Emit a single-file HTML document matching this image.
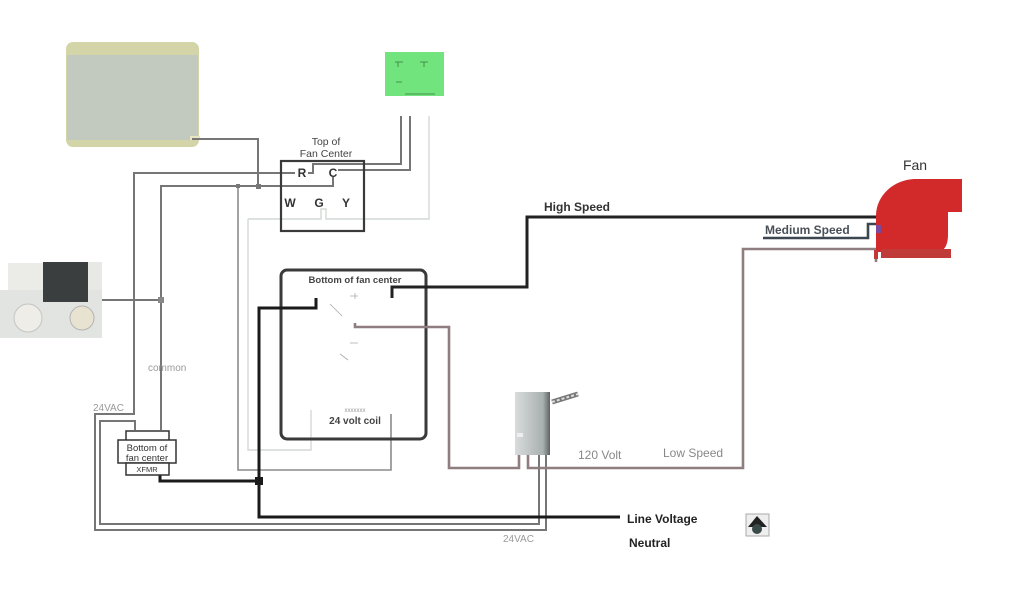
<!DOCTYPE html>
<html><head><meta charset="utf-8"><style>
html,body{margin:0;padding:0;background:#fff;width:1024px;height:600px;overflow:hidden}
svg{display:block}
text{font-family:"Liberation Sans",sans-serif}
</style></head><body>
<svg width="1024" height="600" viewBox="0 0 1024 600" xmlns="http://www.w3.org/2000/svg">
<defs>
<linearGradient id="rg" x1="0" x2="1"><stop offset="0" stop-color="#d8dcdc"/><stop offset="0.8" stop-color="#a9b0b0"/><stop offset="1" stop-color="#5e6262"/></linearGradient>
</defs>
<!-- monitor box -->
<rect x="66" y="42" width="133" height="105" rx="7" fill="#d3d5a8"/>
<rect x="67" y="55" width="131" height="85" fill="#c2c9be"/>
<rect x="190" y="136" width="10" height="4" fill="#e8e6c0"/>
<!-- thermostat -->
<rect x="385" y="52" width="59" height="44" fill="#72e47e"/>
<g stroke="#3a7a40" stroke-width="0.8" fill="none">
<path d="M395 62h8M398 62v5M420 62h8M424 62v5M396 82h6M405 94h30"/>
</g>
<!-- wires gray -->
<g fill="none" stroke="#767676" stroke-width="2">
<path d="M192 139H258V186"/>
<path d="M295 173H134V414H95V530H546V455"/>
<path d="M135 430V421H100V524H539V455"/>
<path d="M333 177V186H161V430"/>
<path d="M100 300H161"/>
<path d="M308 173H313V164H401V116"/>
<path d="M338 170H410V116"/>
</g>
<g fill="none" stroke="#8c8c8c" stroke-width="1.6">
<path d="M238 186V470H391V414"/>
</g>
<g fill="none" stroke="#d4d8d4" stroke-width="1.4">
<path d="M248 219V450H311V410"/>
<path d="M248 219H321V209H326V219H429V116"/>
</g>
<rect x="256" y="184" width="5" height="5" fill="#777"/>
<rect x="236" y="184" width="4" height="4" fill="#777"/>
<rect x="158" y="297" width="6" height="6" fill="#888"/>
<!-- top fan center -->
<rect x="281" y="161" width="83" height="70" fill="none" stroke="#3a3a3a" stroke-width="2.2"/>
<text x="326" y="145" font-size="10.5" fill="#444" text-anchor="middle">Top of</text>
<text x="326" y="157" font-size="10.5" fill="#444" text-anchor="middle">Fan Center</text>
<text x="302" y="177" font-size="12" font-weight="bold" fill="#333" text-anchor="middle">R</text>
<text x="333" y="177" font-size="12" font-weight="bold" fill="#333" text-anchor="middle">C</text>
<text x="290" y="207" font-size="12" font-weight="bold" fill="#333" text-anchor="middle">W</text>
<text x="319" y="207" font-size="12" font-weight="bold" fill="#333" text-anchor="middle">G</text>
<text x="346" y="207" font-size="12" font-weight="bold" fill="#333" text-anchor="middle">Y</text>
<!-- bottom fan center -->
<rect x="281" y="270" width="145" height="169" rx="6" fill="none" stroke="#3a3a3a" stroke-width="3"/>
<text x="355" y="283" font-size="9.5" font-weight="bold" fill="#444" text-anchor="middle">Bottom of fan center</text>
<text x="355" y="424" font-size="10" font-weight="bold" fill="#444" text-anchor="middle">24 volt coil</text>
<text x="355" y="412" font-size="6" fill="#999" text-anchor="middle">xxxxxxx</text>
<g stroke="#aaa" stroke-width="0.8"><path d="M330 304l12 12M350 296h8M355 293v6M340 354l8 6M350 343h8"/></g>
<!-- low speed -->
<path d="M355 323V327H449V468H519V455M528 455V468H743V249H876V262" fill="none" stroke="#8f7d7f" stroke-width="2.6"/>
<!-- high speed -->
<path d="M392 298V287H527V217H876" fill="none" stroke="#222" stroke-width="3"/>
<!-- medium -->
<path d="M763 238H868V224H878" fill="none" stroke="#3c4650" stroke-width="2.6"/>
<!-- line voltage black -->
<path d="M316 298V308H259V517H620M160 470V481H259" fill="none" stroke="#1a1a1a" stroke-width="3"/>
<rect x="255" y="477" width="8" height="8" fill="#1a1a1a"/>
<!-- xfmr -->
<rect x="126" y="431" width="43" height="10" fill="#fff" stroke="#333" stroke-width="1.5"/>
<rect x="118" y="440" width="58" height="23" fill="#fff" stroke="#333" stroke-width="1.5"/>
<rect x="126" y="463" width="43" height="12" fill="#fff" stroke="#333" stroke-width="1.5"/>
<text x="147" y="451" font-size="9.5" fill="#333" text-anchor="middle">Bottom of</text>
<text x="147" y="461" font-size="9.5" fill="#333" text-anchor="middle">fan center</text>
<text x="147" y="472" font-size="7.5" fill="#333" text-anchor="middle">XFMR</text>
<!-- gas valve -->
<rect x="8" y="263" width="35" height="35" fill="#ebebe8"/>
<rect x="43" y="262" width="45" height="40" fill="#3a3e3e"/>
<rect x="0" y="290" width="102" height="48" fill="#e2e4e1"/>
<rect x="43" y="290" width="45" height="12" fill="#3a3e3e"/>
<circle cx="28" cy="318" r="14" fill="#eeede8" stroke="#c4c4c4"/>
<circle cx="82" cy="318" r="12" fill="#e8e2d0" stroke="#b4b4b4"/>
<rect x="88" y="262" width="14" height="28" fill="#e8e8e4"/>
<!-- relay -->
<rect x="515" y="392" width="35" height="63" fill="url(#rg)"/>
<path d="M552 402L578 394" stroke="#777" stroke-width="5"/>
<path d="M552 402L578 394" stroke="#ddd" stroke-width="2" stroke-dasharray="3 2"/>
<rect x="517" y="433" width="6" height="4" fill="#eee"/>
<!-- fan -->
<path d="M876 252V215A40 37 0 0 1 914 179H962V212H948V235Q948 248 940 252Z" fill="#d22a2a"/>
<rect x="874" y="250" width="4" height="9" fill="#c03838"/>
<rect x="881" y="249" width="70" height="9" fill="#c03a3a"/>
<rect x="876" y="225" width="5" height="8" fill="#7a4aa0"/>
<text x="915" y="170" font-size="14" fill="#333" text-anchor="middle">Fan</text>
<!-- labels -->
<text x="544" y="211" font-size="12" font-weight="bold" fill="#333">High Speed</text>
<text x="765" y="234" font-size="12" font-weight="bold" fill="#4a5058">Medium Speed</text>
<text x="578" y="459" font-size="12" fill="#888">120 Volt</text>
<text x="663" y="457" font-size="12" fill="#888">Low Speed</text>
<text x="627" y="523" font-size="12" font-weight="bold" fill="#222">Line Voltage</text>
<text x="629" y="547" font-size="12" font-weight="bold" fill="#222">Neutral</text>
<text x="93" y="411" font-size="10" fill="#999">24VAC</text>
<text x="503" y="542" font-size="10" fill="#999">24VAC</text>
<text x="148" y="371" font-size="10" fill="#999">common</text>
<!-- icon -->
<rect x="746" y="514" width="23" height="22" fill="#eee" stroke="#aaa"/>
<path d="M748 527L757 516L767 527Z" fill="#222"/>
<circle cx="757" cy="529" r="5" fill="#3a4a48"/>
</svg>
</body></html>
